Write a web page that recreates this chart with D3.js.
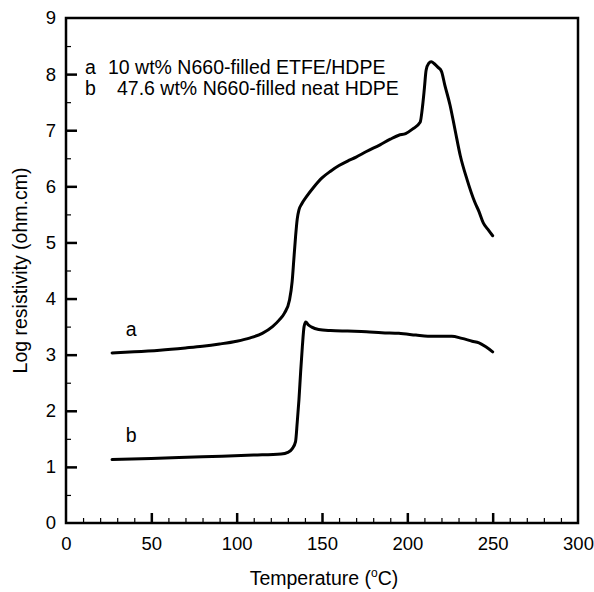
<!DOCTYPE html>
<html>
<head>
<meta charset="utf-8">
<script src="https://cdn.jsdelivr.net/npm/d3@7/dist/d3.min.js"></script>
<style>
  html, body { margin: 0; padding: 0; background: #fff; }
  svg text { font-family: "Liberation Sans", Arial, sans-serif; fill: #000; }
</style>
</head>
<body>
<svg id="chart" width="594" height="592"></svg>
<script>
// ---- data ----
const curveATemp = [27, 40, 55, 70, 80, 90, 100, 108, 115, 121, 125, 128, 131, 132.5, 133.5, 134.5, 135.5, 136.5, 138, 141, 145, 150, 155, 160, 165, 170, 176, 184, 190, 195, 199, 203, 207.5, 209, 210, 211, 212.5, 214, 216, 218, 220, 222, 225, 228, 231, 235, 239.5, 242, 244.5, 247, 250];
const curveALogR = [3.03, 3.05, 3.08, 3.12, 3.15, 3.19, 3.24, 3.30, 3.38, 3.50, 3.62, 3.74, 3.98, 4.3, 4.7, 5.1, 5.42, 5.58, 5.68, 5.82, 5.98, 6.15, 6.27, 6.37, 6.45, 6.52, 6.62, 6.74, 6.84, 6.91, 6.94, 7.02, 7.14, 7.45, 7.75, 8.07, 8.19, 8.22, 8.18, 8.12, 8.05, 7.8, 7.45, 7.0, 6.55, 6.12, 5.72, 5.55, 5.35, 5.24, 5.12];
const curveBTemp = [27, 50, 80, 110, 126, 130, 132.5, 134.5, 135.5, 136.5, 137.5, 138.5, 139.5, 140.5, 142, 144, 148, 155, 165, 176, 185, 195, 205, 212, 226, 232, 238, 242, 246, 250];
const curveBLogR = [1.13, 1.15, 1.18, 1.21, 1.23, 1.26, 1.32, 1.45, 1.8, 2.2, 2.7, 3.15, 3.5, 3.58, 3.53, 3.49, 3.45, 3.43, 3.42, 3.41, 3.39, 3.38, 3.35, 3.33, 3.33, 3.29, 3.24, 3.21, 3.14, 3.05];
const xTicks = [0, 50, 100, 150, 200, 250, 300];
const yTicks = [0, 1, 2, 3, 4, 5, 6, 7, 8, 9];
const legendKeys = ["a", "b"];
const legendTexts = ["10 wt% N660-filled ETFE/HDPE", "47.6 wt% N660-filled neat HDPE"];
const curveLabels = [{ key: "a", t: 35, v: 3.33 }, { key: "b", t: 35, v: 1.44 }];

// ---- layout ----
const svg = d3.select("#chart");
const margin = { left: 66, top: 18, right: 16, bottom: 69 };
const W = 594, H = 592;
const FS = 19.5;
const x = d3.scaleLinear().domain([0, 300]).range([margin.left, W - margin.right]);
const y = d3.scaleLinear().domain([0, 9]).range([H - margin.bottom, margin.top]);

// frame
svg.append("rect")
  .attr("x", x(0)).attr("y", y(9))
  .attr("width", x(300) - x(0)).attr("height", y(0) - y(9))
  .attr("fill", "none").attr("stroke", "#000").attr("stroke-width", 2.5);

// bottom axis (ticks inward)
const xMinor = d3.range(0, 301, 10).filter(v => v % 50 !== 0);
const xAxisMajor = d3.axisBottom(x).tickValues(xTicks).tickSize(-10).tickPadding(14).tickFormat(d3.format("d"));
const gx = svg.append("g").attr("transform", `translate(0,${y(0)})`).call(xAxisMajor);
gx.select(".domain").remove();
gx.selectAll(".tick line").attr("stroke-width", 2.5).filter(d => d === 0 || d === 300).remove();
gx.selectAll(".tick text").attr("font-size", 18.5);
const gxm = svg.append("g").attr("transform", `translate(0,${y(0)})`)
  .call(d3.axisBottom(x).tickValues(xMinor).tickSize(-5).tickFormat(""));
gxm.select(".domain").remove();
gxm.selectAll(".tick line").attr("stroke-width", 1.2);

// left axis
const yMinor = d3.range(0.5, 9, 1);
const yAxisMajor = d3.axisLeft(y).tickValues(yTicks).tickSize(-11).tickPadding(10).tickFormat(d3.format("d"));
const gy = svg.append("g").attr("transform", `translate(${x(0)},0)`).call(yAxisMajor);
gy.select(".domain").remove();
gy.selectAll(".tick line").attr("stroke-width", 2.5).filter(d => d === 0 || d === 9).remove();
gy.selectAll(".tick text").attr("font-size", 18.5);
const gym = svg.append("g").attr("transform", `translate(${x(0)},0)`)
  .call(d3.axisLeft(y).tickValues(yMinor).tickSize(-5).tickFormat(""));
gym.select(".domain").remove();
gym.selectAll(".tick line").attr("stroke-width", 1.2);

// curves
const line = d3.line().x(d => x(d[0])).y(d => y(d[1])).curve(d3.curveMonotoneX);
const seriesA = curveATemp.map((t, i) => [t, curveALogR[i]]);
const seriesB = curveBTemp.map((t, i) => [t, curveBLogR[i]]);
[seriesA, seriesB].forEach(s => {
  svg.append("path").datum(s).attr("d", line)
    .attr("fill", "none").attr("stroke", "#000").attr("stroke-width", 3)
    .attr("stroke-linejoin", "round").attr("stroke-linecap", "round");
});

// curve labels
curveLabels.forEach(c => {
  svg.append("text").attr("x", x(c.t)).attr("y", y(c.v))
    .attr("font-size", FS).text(c.key);
});

// legend text
legendKeys.forEach((k, i) => {
  const by = 74 + i * 21;
  svg.append("text").attr("x", 85).attr("y", by).attr("font-size", FS).text(k);
  svg.append("text").attr("x", i === 0 ? 108 : 117).attr("y", by).attr("font-size", FS).text(legendTexts[i]);
});

// axis titles
const xt = svg.append("text").attr("x", x(150) + 2).attr("y", 585)
  .attr("text-anchor", "middle").attr("font-size", FS);
xt.append("tspan").text("Temperature (");
xt.append("tspan").attr("font-size", 12).attr("dy", -8).text("o");
xt.append("tspan").attr("dy", 8).text("C)");

svg.append("text")
  .attr("transform", `translate(27,${(y(0) + y(9)) / 2}) rotate(-90)`)
  .attr("text-anchor", "middle").attr("font-size", FS)
  .text("Log resistivity (ohm.cm)");
</script>
</body>
</html>
